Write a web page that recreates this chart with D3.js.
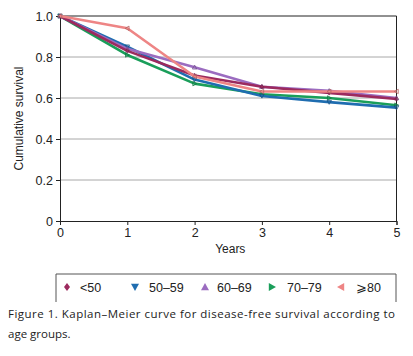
<!DOCTYPE html>
<html><head><meta charset="utf-8">
<script src="https://cdn.jsdelivr.net/npm/d3@7"></script>
<style>body{margin:0;background:#fff;} svg{display:block;font-family:"Liberation Sans",Arial,sans-serif;}</style>
</head><body>
<svg id="c" width="413" height="356"></svg>
<script>
const years = [0,1,2,3,4,5];
const groups = ["<50","50–59","60–69","70–79","⩾80"];
const sLt50   = [1.0,0.83,0.71,0.655,0.625,0.595];
const s50_59  = [1.0,0.85,0.69,0.61,0.58,0.553];
const s60_69  = [1.0,0.84,0.75,0.655,0.635,0.60];
const s70_79  = [1.0,0.81,0.67,0.618,0.60,0.565];
const sGe80   = [1.0,0.94,0.705,0.632,0.632,0.632];
const yTicks = [0,0.2,0.4,0.6,0.8,1.0];
const colors = ["#9c2a5e","#1f6db0","#9b6cc0","#1a9e5a","#ee8585"];
const symbols = ["diamond","down","up","right","left"];
const seriesVals = [sLt50,s50_59,s60_69,s70_79,sGe80];

const svg = d3.select("#c");
const x = d3.scaleLinear().domain([0,5]).range([60,396.5]);
const y = d3.scaleLinear().domain([0,1]).range([221,16]);

svg.append("g").selectAll("line").data(yTicks.filter(v=>v>0&&v<1)).join("line")
  .attr("x1",x(0)).attr("x2",x(5)).attr("y1",d=>y(d)).attr("y2",d=>y(d))
  .attr("stroke","#a8a8a8").attr("stroke-width",1);
svg.append("line").attr("x1",x(0)).attr("x2",x(5)).attr("y1",y(1)).attr("y2",y(1)).attr("stroke","#222").attr("stroke-width",1);
svg.append("line").attr("x1",x(5)).attr("x2",x(5)).attr("y1",y(1)).attr("y2",y(0)).attr("stroke","#222").attr("stroke-width",1);

const yAxis = d3.axisLeft(y).tickValues(yTicks).tickFormat(d=>d===0?"0":d3.format(".1f")(d)).tickSize(4).tickPadding(3);
const gy = svg.append("g").attr("transform",`translate(${x(0)},0)`).call(yAxis);
const xAxis = d3.axisBottom(x).tickValues(years).tickFormat(d3.format("d")).tickSize(4).tickPadding(3);
const gx = svg.append("g").attr("transform",`translate(0,${y(0)})`).call(xAxis);
[gy,gx].forEach(g=>{
  g.selectAll("path").attr("stroke","#222");
  g.selectAll("line").attr("stroke","#222");
  g.selectAll("text").attr("font-size","12.5px").attr("fill","#222").attr("font-family","Liberation Sans, Arial, sans-serif");
});

svg.append("text").attr("x",x(2.5)+2).attr("y",253).attr("text-anchor","middle")
  .attr("font-size","12px").attr("fill","#222").text("Years");
svg.append("text").attr("transform",`translate(23,${y(0.5)}) rotate(-90)`).attr("text-anchor","middle")
  .attr("font-size","12px").attr("fill","#222").text("Cumulative survival");

const line = d3.line().x((d,i)=>x(years[i])).y(d=>y(d));
const order = [3,1,2,0,4];
function sym(type, s){
  const h=s;
  if(type==="diamond") return `M0,${-h}L${h*0.75},0L0,${h}L${-h*0.75},0Z`;
  if(type==="down") return `M${-h},${-h*0.8}L${h},${-h*0.8}L0,${h}Z`;
  if(type==="up") return `M${-h},${h*0.8}L${h},${h*0.8}L0,${-h}Z`;
  if(type==="right") return `M${-h*0.8},${-h}L${-h*0.8},${h}L${h},0Z`;
  return `M${h*0.8},${-h}L${h*0.8},${h}L${-h},0Z`;
}
order.forEach(k=>{
  const g = svg.append("g");
  g.append("path").datum(seriesVals[k]).attr("d",line).attr("fill","none")
    .attr("stroke",colors[k]).attr("stroke-width",2.6).attr("stroke-linejoin","round");
  g.selectAll("path.m").data(seriesVals[k]).join("path").attr("class","m")
    .attr("transform",(d,i)=>`translate(${x(years[i])},${y(d)})`)
    .attr("d",sym(symbols[k],2.2)).attr("fill","none").attr("stroke",d3.color(colors[k]).darker(0.8)).attr("stroke-width",0.8);
});

svg.append("path").attr("d","M56,302V274H396V302").attr("fill","none").attr("stroke","#555").attr("stroke-width",1);
const legX = [67,135,205,272,341];
const legTx = [80,149,217,287,356];
groups.forEach((gname,k)=>{
  svg.append("path").attr("transform",`translate(${legX[k]},${287})`).attr("d",sym(symbols[k],4)).attr("fill",colors[k]);
  svg.append("text").attr("x",legTx[k]).attr("y",291.5).attr("font-size","12.5px").attr("fill","#222").text(gname);
});

svg.append("text").attr("x",8).attr("y",318).attr("font-size","11.5px").attr("fill","#222")
  .attr("font-family","Open Sans, sans-serif").attr("textLength",387).text("Figure 1. Kaplan–Meier curve for disease-free survival according to");
svg.append("text").attr("x",8).attr("y",338).attr("font-size","11.5px").attr("fill","#222")
  .attr("font-family","Open Sans, sans-serif").text("age groups.");
</script>
</body></html>
